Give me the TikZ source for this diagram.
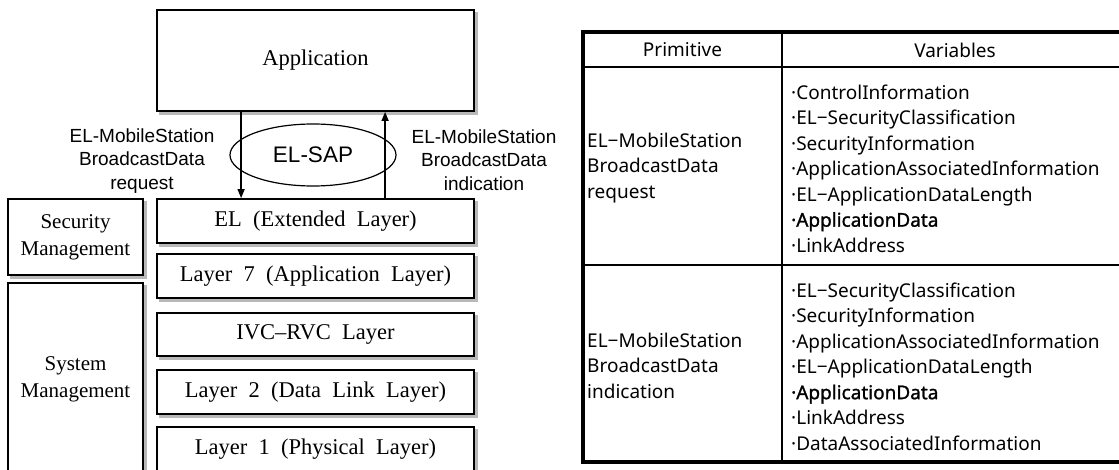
\documentclass[tikz,border=0pt]{standalone}
\usepackage{fontspec}
\setmainfont{Liberation Serif}
\newfontfamily\lsans{Liberation Sans}
\newfontfamily\tabfont{Noto Sans}
\newfontfamily\tabfontb[FakeBold=1.2]{Noto Sans}
\usetikzlibrary{shapes.geometric,arrows.meta,calc}
\newcommand{\wsp}{\hskip0.5em\relax}
\definecolor{shadowc}{RGB}{185,185,185}
\tikzset{
  shad/.style={preaction={fill=shadowc,draw=shadowc,transform canvas={shift={(3pt,-3pt)}}}},
  layerbox/.style={draw,line width=1.8pt,fill=white,minimum width=317pt,minimum height=44pt,
    inner sep=0pt,shad,font=\fontsize{22.5}{26}\selectfont},
  mgmtbox/.style={draw,line width=1.8pt,fill=white,minimum width=135pt,inner sep=0pt,shad,
    align=center,font=\fontsize{21}{27}\selectfont},
  sap/.style={draw,ellipse,line width=1.2pt,minimum width=166pt,minimum height=62pt,inner sep=0pt,
    font=\lsans\fontsize{22.5}{26}\selectfont},
  sidelabel/.style={align=center,inner sep=0pt,font=\lsans\fontsize{19}{23.5}\selectfont},
  arr/.style={-{Triangle[length=9pt,width=7pt]},line width=1.3pt},
  tabtxt/.style={align=left,inner sep=0pt,font=\tabfont\fontsize{19}{25.5}\selectfont},
  tabhead/.style={inner sep=0pt,font=\tabfont\fontsize{19}{25.5}\selectfont},
  outerline/.style={line width=3.5pt},
  innerline/.style={line width=1.4pt}
}
\begin{document}
\begin{tikzpicture}[x=1pt,y=-1pt]
\clip (0,0) rectangle (1119,470);
\fill[white] (0,0) rectangle (1119,470);
% left diagram
\node[layerbox,minimum height=101pt] (app) at (315.5,60.5) {Application};
\node[layerbox] (el) at (315.5,221) {EL\wsp(Extended\wsp Layer)};
\node[layerbox] (l7) at (315.5,276) {Layer\wsp 7\wsp(Application\wsp Layer)};
\node[layerbox,minimum height=43pt] (ivc) at (315.5,334.5) {IVC--RVC\wsp Layer};
\node[layerbox] (l2) at (315.5,392) {Layer\wsp 2\wsp(Data\wsp Link\wsp Layer)};
\node[layerbox] (l1) at (315.5,449) {Layer\wsp 1\wsp(Physical\wsp Layer)};
\node[mgmtbox,minimum height=76pt] (sec) at (75.5,237) {Security\\Management};
\node[mgmtbox,minimum height=192pt] (sys) at (75.5,379) {System\\Management};
\node[sap] (sapn) at (313,155) {EL-SAP};
\coordinate (dn) at ($(app.south west)+(85,0)$);
\coordinate (up) at ($(app.south west)+(229,0)$);
\draw[arr] (dn) -- (dn |- el.north);
\draw[arr] (up |- el.north) -- (up);
\node[sidelabel] (lreq) at (142,161) {EL-MobileStation\\BroadcastData\\request};
\node[sidelabel] (lind) at (484,160) {EL-MobileStation\\BroadcastData\\indication};
% table
\coordinate (tnw) at (583,32);
\coordinate (tse) at (1121,462);
\coordinate (cdt) at (782,32);
\coordinate (cdb) at (782,462);
\coordinate (h1l) at (583,67);
\coordinate (h1r) at (1121,67);
\coordinate (r1l) at (583,265);
\coordinate (r1r) at (1121,265);
\draw[innerline] (cdt) -- (cdb);
\draw[innerline] (h1l) -- (h1r);
\draw[innerline] (r1l) -- (r1r);
\draw[outerline] (tnw) rectangle (tse);
\node[tabhead] (hp) at (682.5,50) {Primitive};
\node[tabhead] (hv) at (955,50) {Variables};
\node[tabtxt,anchor=west] (p1) at (587,168) {EL−MobileStation\\BroadcastData\\request};
\node[tabtxt,anchor=west] (p2) at (587,365.5) {EL−MobileStation\\BroadcastData\\indication};
\node[tabtxt,anchor=west] (v1) at (791,168.5) {·ControlInformation\\·EL−SecurityClassification\\·SecurityInformation\\·ApplicationAssociatedInformation\\·EL−ApplicationDataLength\\{\tabfontb ·ApplicationData}\\·LinkAddress};
\node[tabtxt,anchor=west] (v2) at (791,366.5) {·EL−SecurityClassification\\·SecurityInformation\\·ApplicationAssociatedInformation\\·EL−ApplicationDataLength\\{\tabfontb ·ApplicationData}\\·LinkAddress\\·DataAssociatedInformation};
\end{tikzpicture}
\end{document}
